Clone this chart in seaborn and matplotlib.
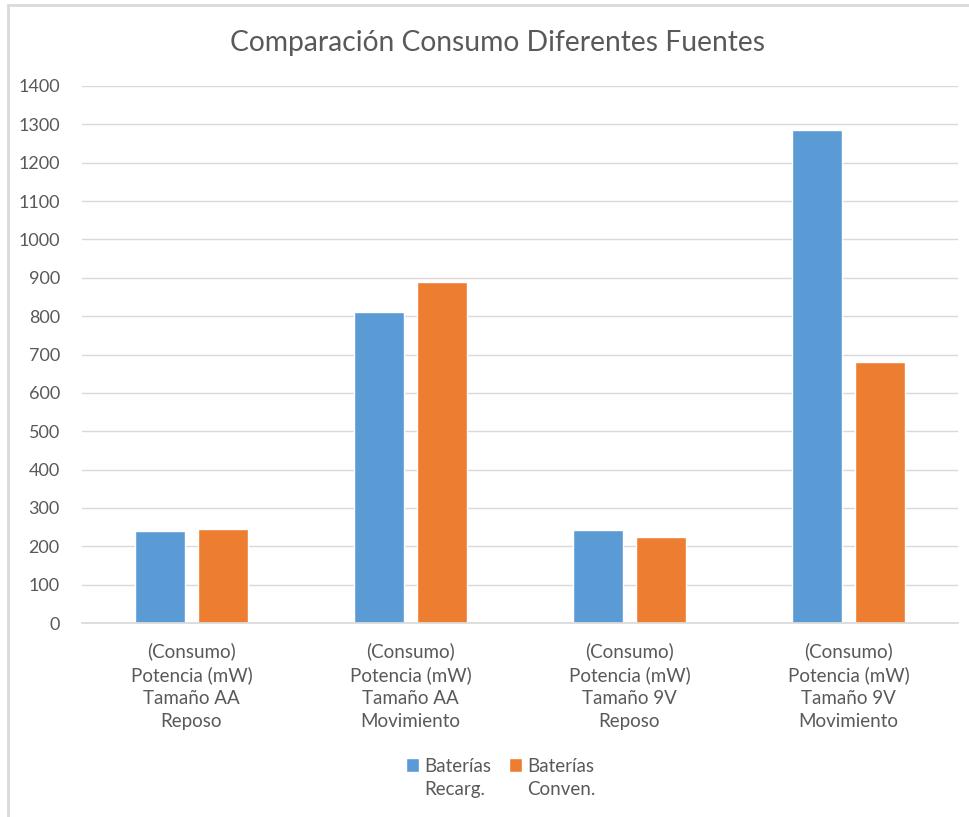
import pandas as pd
import matplotlib
matplotlib.use("Agg")
import matplotlib.pyplot as plt
import matplotlib.patches as mpatches
import seaborn as sns

categorias = [
    "(Consumo)\nPotencia (mW)\nTamaño AA\nReposo",
    "(Consumo)\nPotencia (mW)\nTamaño AA\nMovimiento",
    "(Consumo)\nPotencia (mW)\nTamaño 9V\nReposo",
    "(Consumo)\nPotencia (mW)\nTamaño 9V\nMovimiento",
]
series = ["Baterías\nRecarg.", "Baterías\nConven."]
recargables = [239, 810, 242, 1284]
convencionales = [244, 889, 223, 680]
colores = ["#5b9bd5", "#ed7d31"]
yticks = list(range(0, 1401, 100))

df = pd.DataFrame({
    "categoria": categorias * 2,
    "serie": [series[0]] * 4 + [series[1]] * 4,
    "valor": recargables + convencionales,
})

sns.set_theme(style="white")
plt.rcParams["font.family"] = ["Lato", "DejaVu Sans"]
texto = "#595959"

fig = plt.figure(figsize=(9.69, 8.17), dpi=100)
ax = fig.add_axes([82 / 969, 1 - 623 / 817, 876 / 969, 537 / 817])

sns.barplot(data=df, x="categoria", y="valor", hue="serie", palette=colores,
            width=0.57, gap=0.2, saturation=1, ax=ax, legend=True)

ax.set_ylim(0, 1400)
ax.set_xlim(-0.5, 3.5)
ax.set_yticks(yticks)
ax.yaxis.grid(True, color="#d9d9d9", linewidth=1)
ax.set_axisbelow(True)
for s in ["top", "right", "left"]:
    ax.spines[s].set_visible(False)
ax.spines["bottom"].set_color("#d9d9d9")
ax.tick_params(axis="both", length=0, colors=texto)
ax.tick_params(axis="y", pad=16, labelsize=13)
ax.tick_params(axis="x", pad=14, labelsize=13.5)
for lbl in ax.get_xticklabels():
    lbl.set_linespacing(1.42)
ax.set_xlabel("")
ax.set_ylabel("")

fig.suptitle("Comparación Consumo Diferentes Fuentes", x=497 / 969, y=1 - 43 / 817,
             va="center", fontsize=20.3, color=texto)

leg = ax.legend(loc="center", bbox_to_anchor=(0.478, -0.288), ncol=2, frameon=False,
                fontsize=13.5, handlelength=0.7, handleheight=0.7, handletextpad=0.3,
                columnspacing=0.9, labelcolor=texto)
for t in leg.get_texts():
    t.set_linespacing(1.45)
    t.set_multialignment("left")
for h in leg.legend_handles:
    h.set_height(10)
    h.set_y(h.get_y() + 9)

borde = mpatches.Rectangle((8 / 969, -0.1), 1.2, 1 - 5 / 817 + 0.1,
                           transform=fig.transFigure, fill=False,
                           edgecolor="#d9d9d9", linewidth=2)
fig.patches.append(borde)

fig.savefig("out.png", dpi=100)
